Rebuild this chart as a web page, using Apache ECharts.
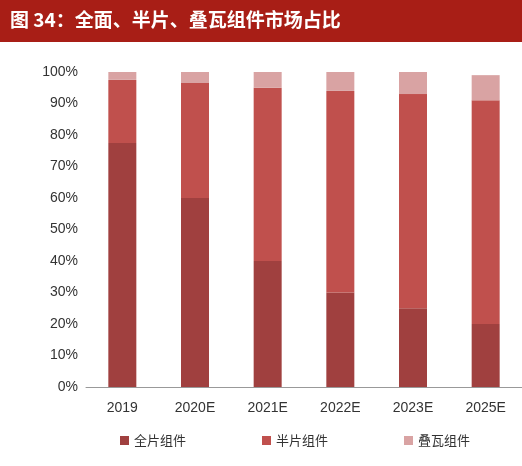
<!DOCTYPE html>
<html><head><meta charset="utf-8">
<script src="https://cdn.jsdelivr.net/npm/echarts@6/dist/echarts.min.js"></script>
<style>body{margin:0;background:#fff}#c{width:522px;height:466px}</style>
</head><body><div id="c"></div>
<script>
const categories=['2019','2020E','2021E','2022E','2023E','2025E'];
const fullCell=[77.5,60,40,30,25,20];
const halfCell=[20,36.5,55,64,68,71];
const shingled=[2.5,3.5,5,6,7,8];
const names=['全片组件','半片组件','叠瓦组件'];
const colors=['#A0403F','#C0504D','#D9A3A3'];
const chart=echarts.init(document.getElementById('c'));
const data=[fullCell,halfCell,shingled];
chart.setOption({
  animation:false,
  graphic:[{type:'rect',shape:{x:0,y:0,width:522,height:42},style:{fill:'#A81E16'}},
    {type:'text',left:10,top:10,style:{text:'图 34：全面、半片、叠瓦组件市场占比',fill:'#fff',font:'bold 19px "Noto Sans CJK SC"'}}],
  grid:{left:86,right:-8,top:72,bottom:79},
  legend:{bottom:14,left:115,itemWidth:9,itemHeight:9,itemGap:76,icon:'rect',
    textStyle:{fontFamily:'Noto Sans CJK SC',fontSize:13,color:'#333'},data:names},
  xAxis:{type:'category',data:categories,axisTick:{show:false},
    axisLine:{lineStyle:{color:'#999'}},axisLabel:{fontSize:14,color:'#333',margin:14,fontFamily:'Liberation Sans'}},
  yAxis:{type:'value',min:0,max:100,interval:10,splitLine:{show:false},
    axisLabel:{formatter:'{value}%',fontSize:14,color:'#333',fontFamily:'Liberation Sans'}},
  series:names.map((n,i)=>({name:n,type:'bar',stack:'a',barWidth:28,data:data[i],itemStyle:{color:colors[i]}}))
});
</script></body></html>
